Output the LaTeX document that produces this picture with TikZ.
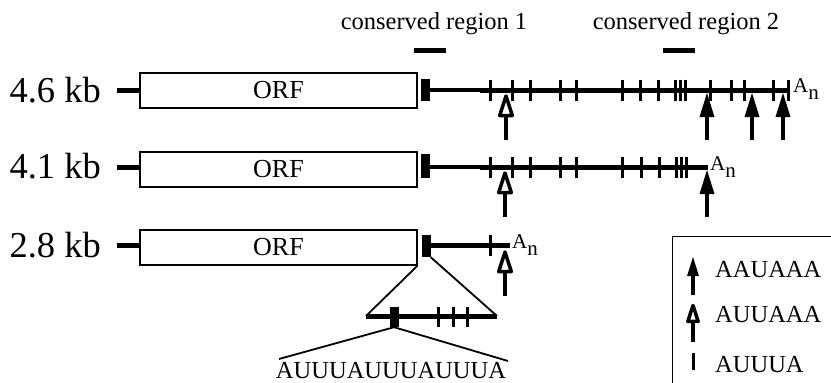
\documentclass[tikz,border=0pt]{standalone}
\usepackage{fontspec}
\setmainfont{Liberation Serif}
\begin{document}
\begin{tikzpicture}[x=1pt,y=-1pt,
  rna/.style={line width=5pt},
  thinrna/.style={line width=3.5pt},
  tickmark/.style={line width=3pt},
  orfbox/.style={draw, line width=1.2pt, minimum width=277pt, minimum height=35pt, inner sep=0pt, font=\fontsize{26}{26}\selectfont},
  sizelabel/.style={font=\fontsize{36.5}{40}\selectfont, inner sep=0pt, anchor=base east},
  blk/.style={fill=black, minimum width=9pt, minimum height=22pt, inner sep=0pt},
  polya/.style={anchor=base west, inner sep=0pt, font=\fontsize{21}{21}\selectfont},
  crtext/.style={anchor=base, inner sep=0pt, font=\fontsize{24.5}{24.5}\selectfont},
  legtext/.style={anchor=base west, inner sep=0pt, text depth=0pt, font=\fontsize{24.5}{24.5}\selectfont},
  filledarrow/.pic={
    \fill (0,0) -- (-7.5,24) -- (7.5,24) -- cycle;
    \fill (-2,20) rectangle (2,47);
  },
  openarrow/.pic={
    \draw[line width=3.5pt, line join=round, fill=white] (0,3) -- (-6.3,22.5) -- (6.3,22.5) -- cycle;
    \fill (-2,24) rectangle (2,47);
  }
]
\useasboundingbox (0,0) rectangle (831,383);

% conserved regions
\node[crtext] (cr1) at (434,29) {conserved region 1};
\node[crtext] (cr2) at (686,29) {conserved region 2};
\draw[rna] (414,50) -- (446,50);
\draw[rna] (663,50) -- (695,50);

% ---- row 1 : 4.6 kb
\node[sizelabel] (l1) at (101,102) {4.6 kb};
\node[orfbox] (orf1) at (278.5,90.5) {ORF};
\draw[rna] (orf1.west |- 0,90) -- ++(-22,0);
\node[blk] (b1) at (425.5,90) {};
\draw[thinrna] (b1.east) -- (480,90);
\draw[rna] (480,90) -- (790,90);
\foreach \x in {490,512,530,560,576,622,640,658,675,680,685,710,731,744,773,788}
  \draw[tickmark] (\x,79.5) -- (\x,100.5);
\node[polya] (an1) at (793,92) {A\raisebox{-7pt}{n}};
\pic at (506,93) {openarrow};
\foreach \x in {707,752,783} \pic at (\x,93) {filledarrow};

% ---- row 2 : 4.1 kb
\node[sizelabel] (l2) at (101,178) {4.1 kb};
\node[orfbox] (orf2) at (278.5,169.5) {ORF};
\draw[rna] (orf2.west |- 0,167) -- ++(-22,0);
\node[blk, minimum height=24pt] (b2) at (425.5,166) {};
\draw[thinrna] (b2.east |- 0,167) -- (480,167);
\draw[rna] (480,167) -- (708,167);
\foreach \x in {490,512,530,560,576,622,641,659,676,681,686}
  \draw[tickmark] (\x,156.5) -- (\x,177.5);
\node[polya] (an2) at (710,170) {A\raisebox{-7pt}{n}};
\pic at (505,170) {openarrow};
\pic at (707,170) {filledarrow};

% ---- row 3 : 2.8 kb
\node[sizelabel] (l3) at (101,257) {2.8 kb};
\node[orfbox] (orf3) at (278.5,247.5) {ORF};
\draw[rna] (orf3.west |- 0,245) -- ++(-22,0);
\node[blk] (b3) at (426,246) {};
\draw[rna] (b3.east |- 0,245) -- (510,245);
\draw[tickmark] (490,234.5) -- (490,255.5);
\node[polya] (an3) at (512,248) {A\raisebox{-7pt}{n}};
\pic at (505,249) {openarrow};

% ---- expansion
\coordinate (el) at (366,316);
\coordinate (er) at (497,316);
\draw[line width=1.8pt] (orf3.south east) -- (el);
\draw[line width=1.8pt] (b3.south east) -- (er);
\draw[rna] (el) -- (er);
\node[blk, minimum height=20pt] (b4) at (394,317) {};
\foreach \x in {438,453,467}
  \draw[tickmark] (\x,307) -- (\x,327);
\node[anchor=base, inner sep=0pt, text depth=0pt, font=\fontsize{24.5}{24.5}\selectfont] (seq) at (391,378.5) {AUUUAUUUAUUUA};
\draw[line width=1.8pt] (b4.south) -- (279,359);
\draw[line width=1.8pt] (b4.south) -- (508,361);

% ---- legend
\draw[line width=1pt] (831,236) -- (672,236) -- (672,383);
\pic[scale=0.8] at (693,257) {filledarrow};
\node[legtext] (k1) at (715,277) {AAUAAA};
\pic[scale=0.82] at (693,303) {openarrow};
\node[legtext] (k2) at (715,322) {AUUAAA};
\draw[tickmark] (693,353) -- (693,370);
\node[legtext] (k3) at (715,372) {AUUUA};
\end{tikzpicture}
\end{document}
